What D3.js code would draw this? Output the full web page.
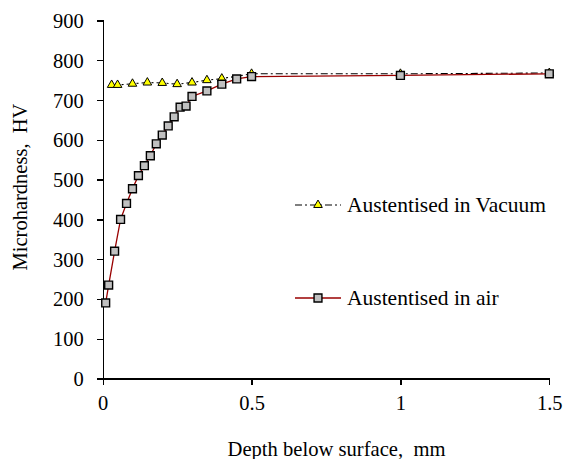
<!DOCTYPE html>
<html>
<head>
<meta charset="utf-8">
<script src="https://cdnjs.cloudflare.com/ajax/libs/d3/7.8.5/d3.min.js"></script>
<style>
  html, body { margin: 0; padding: 0; background: #fff; }
  svg { display: block; }
  .axis path, .axis line { stroke: #000; stroke-width: 1.3; shape-rendering: crispEdges; }
</style>
</head>
<body>
<svg id="chart" width="565" height="459"></svg>
<script>
// depth below surface (mm) and microhardness (HV)
const airDepth = [0.01, 0.02, 0.04, 0.06, 0.08, 0.10, 0.12, 0.14, 0.16, 0.18, 0.20, 0.22, 0.24, 0.26, 0.28, 0.30, 0.35, 0.40, 0.45, 0.50, 1.0, 1.5];
const airHV = [190, 235, 320, 400, 440, 477, 510, 535, 560, 590, 612, 635, 658, 682, 685, 709, 723, 740, 753, 759, 762, 766];

const vacDepth = [0.03, 0.05, 0.10, 0.15, 0.20, 0.25, 0.30, 0.35, 0.40, 0.50, 1.0, 1.5];
const vacHV = [738, 738, 741, 744, 743, 740, 744, 750, 754, 766, 766, 768];

const xTicks = [0, 0.5, 1, 1.5];
const yTicks = [0, 100, 200, 300, 400, 500, 600, 700, 800, 900];

const seriesNames = ["Austentised in Vacuum", "Austentised in air"];

const svg = d3.select("#chart");
const margin = { left: 102.7, right: 15.7, top: 20.5, bottom: 80.5 };
const W = 565, H = 459;
const FONT = '"Liberation Serif", "Times New Roman", Times, serif';

const x = d3.scaleLinear().domain([0, 1.5]).range([margin.left, W - margin.right]);
const y = d3.scaleLinear().domain([0, 900]).range([H - margin.bottom, margin.top]);

const xAxis = d3.axisBottom(x).tickValues(xTicks).tickFormat(d3.format("")).tickSizeOuter(0).tickSize(6).tickPadding(11);
const yAxis = d3.axisLeft(y).tickValues(yTicks).tickSizeOuter(0).tickSize(6).tickPadding(13);

const styleAxis = (g) => {
  g.attr("font-family", FONT).attr("font-size", 20.5);
  g.selectAll(".tick text").attr("fill", "#000");
};

svg.append("g")
  .attr("class", "axis axis-x")
  .attr("transform", `translate(0, ${y(0)})`)
  .call(xAxis)
  .call(styleAxis);

svg.append("g")
  .attr("class", "axis axis-y")
  .attr("transform", `translate(${x(0)}, 0)`)
  .call(yAxis)
  .call(styleAxis);

svg.selectAll(".axis-y .tick text").attr("dy", "0.34em");

// axis titles
svg.append("text")
  .attr("x", 336.5)
  .attr("y", 456)
  .attr("text-anchor", "middle")
  .attr("font-family", FONT)
  .attr("font-size", 20.6)
  .attr("xml:space", "preserve")
  .text("Depth below surface,  mm");

svg.append("text")
  .attr("transform", "translate(27, 187) rotate(-90)")
  .attr("text-anchor", "middle")
  .attr("font-family", FONT)
  .attr("font-size", 20.5)
  .attr("xml:space", "preserve")
  .text("Microhardness,  HV");

const line = d3.line()
  .x(d => x(d[0]))
  .y(d => y(d[1]));

const vac = vacDepth.map((d, i) => [d, vacHV[i]]);
const air = airDepth.map((d, i) => [d, airHV[i]]);

const tri = d3.symbol().type(d3.symbolTriangle).size(32);
const sq = d3.symbol().type(d3.symbolSquare).size(62);

// vacuum series
svg.append("path")
  .datum(vac)
  .attr("fill", "none")
  .attr("stroke", "#000")
  .attr("stroke-width", 1.1)
  .attr("stroke-dasharray", "7,3,2,3")
  .attr("d", line);

svg.append("g").selectAll("path")
  .data(vac)
  .join("path")
  .attr("transform", d => `translate(${x(d[0])}, ${y(d[1])})`)
  .attr("d", tri)
  .attr("fill", "#ffff00")
  .attr("stroke", "#000")
  .attr("stroke-width", 1);

// air series
svg.append("path")
  .datum(air)
  .attr("fill", "none")
  .attr("stroke", "#990000")
  .attr("stroke-width", 1.3)
  .attr("d", line);

svg.append("g").selectAll("path")
  .data(air)
  .join("path")
  .attr("transform", d => `translate(${x(d[0])}, ${y(d[1])})`)
  .attr("d", sq)
  .attr("fill", "#c0c0c0")
  .attr("stroke", "#000")
  .attr("stroke-width", 1.4);

// legend
const legend = svg.append("g").attr("class", "legend")
  .attr("font-family", FONT)
  .attr("font-size", 21.5);

const lg1 = legend.append("g").attr("transform", "translate(295, 205)");
lg1.append("line")
  .attr("x1", 0).attr("x2", 46)
  .attr("stroke", "#000").attr("stroke-width", 1.1)
  .attr("stroke-dasharray", "7,3,2,3");
lg1.append("path")
  .attr("transform", "translate(23, 0)")
  .attr("d", tri)
  .attr("fill", "#ffff00").attr("stroke", "#000").attr("stroke-width", 1);
lg1.append("text")
  .attr("x", 52).attr("dy", "0.34em")
  .text(seriesNames[0]);

const lg2 = legend.append("g").attr("transform", "translate(295, 298)");
lg2.append("line")
  .attr("x1", 0).attr("x2", 46)
  .attr("stroke", "#990000").attr("stroke-width", 1.3);
lg2.append("path")
  .attr("transform", "translate(23, 0)")
  .attr("d", sq)
  .attr("fill", "#c0c0c0").attr("stroke", "#000").attr("stroke-width", 1.4);
lg2.append("text")
  .attr("x", 52).attr("dy", "0.34em")
  .text(seriesNames[1]);
</script>
</body>
</html>
